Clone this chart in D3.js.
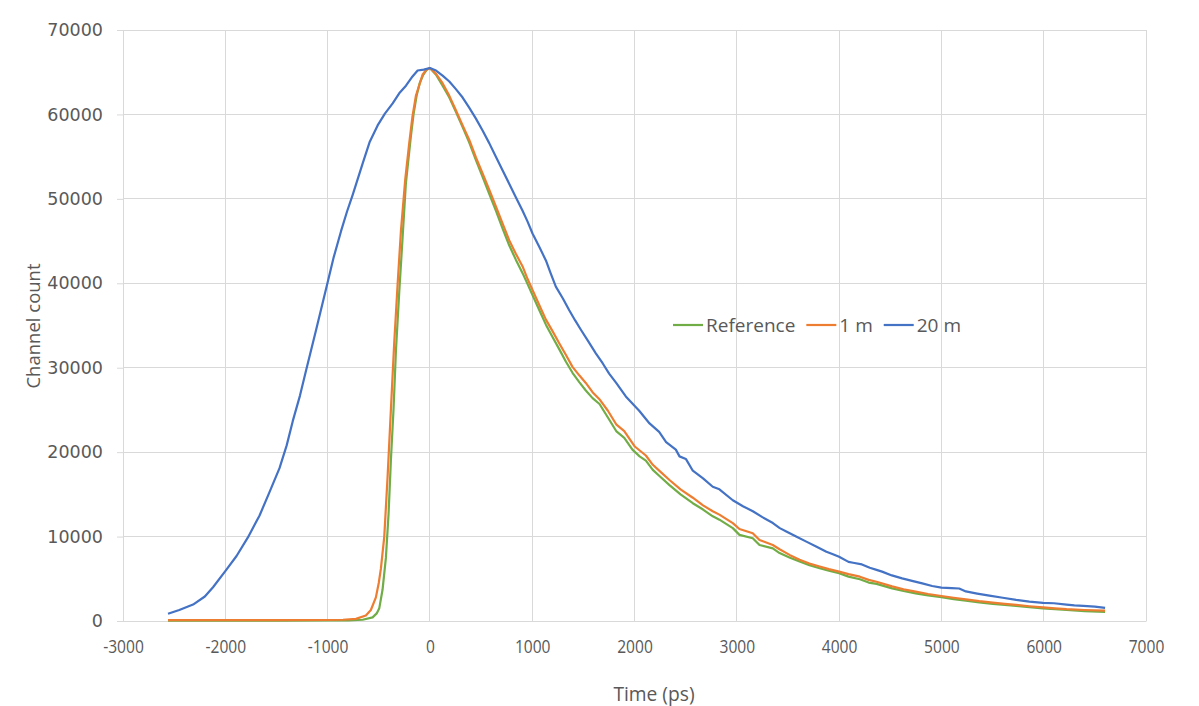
<!DOCTYPE html>
<html>
<head>
<meta charset="utf-8">
<script src="https://cdn.jsdelivr.net/npm/d3@7"></script>
<style>
  body { margin: 0; background: #fff; }
  text { font-family: "Open Sans", sans-serif; fill: #595959; }
</style>
</head>
<body>
<svg id="chart" width="1199" height="706"></svg>
<script>
// [time (ps), channel count]
const reference = [
  [-2560, 50], [-1500, 50], [-1000, 60], [-800, 80], [-658, 150], [-560, 430], [-520, 900],
  [-495, 1500], [-463, 3700], [-430, 7500], [-404, 12700], [-381, 19100], [-355, 25200],
  [-332, 32000], [-300, 38900], [-267, 45400], [-235, 51800], [-186, 57400], [-160, 60000],
  [-130, 62200], [-100, 63700], [-65, 64700], [-30, 65300], [0, 65500], [60, 64700],
  [124, 63400], [190, 62000], [254, 60300], [320, 58500], [384, 56700], [450, 54600],
  [515, 52600], [580, 50600], [645, 48600], [710, 46500], [775, 44500], [840, 42800],
  [906, 41200], [955, 39900], [1003, 38600], [1070, 36800], [1134, 35100], [1200, 33600],
  [1264, 32200], [1330, 30700], [1394, 29400], [1460, 28300], [1524, 27300], [1590, 26400],
  [1658, 25700], [1740, 24100], [1821, 22500], [1900, 21700], [1980, 20300], [2050, 19500],
  [2111, 19000], [2179, 17900], [2260, 17000], [2342, 16100], [2450, 15000], [2570, 13950],
  [2670, 13200], [2765, 12400], [2830, 12000], [2961, 11000], [3026, 10200], [3156, 9800],
  [3222, 9000], [3352, 8600], [3418, 8050], [3520, 7500], [3614, 7050], [3710, 6600],
  [3810, 6250], [3900, 5950], [4000, 5650], [4092, 5260], [4203, 4950], [4289, 4550],
  [4366, 4400], [4518, 3870], [4630, 3550], [4748, 3280], [4870, 3030], [5000, 2810],
  [5120, 2600], [5239, 2410], [5370, 2200], [5502, 2020], [5620, 1900], [5731, 1780],
  [5860, 1630], [5993, 1500], [6110, 1400], [6223, 1300], [6400, 1180], [6600, 1070]
]

const oneMetre = [
  [-2560, 100], [-1500, 100], [-1000, 120], [-850, 150], [-723, 250], [-626, 650], [-577, 1300],
  [-528, 2800], [-500, 4500], [-479, 6200], [-446, 10000], [-414, 17000], [-381, 25100],
  [-349, 32900], [-316, 39800], [-283, 46200], [-241, 52300], [-202, 56600], [-170, 59800],
  [-137, 62200], [-100, 63600], [-72, 64700], [-35, 65300], [0, 65500], [60, 64800],
  [124, 63700], [190, 62200], [254, 60500], [320, 58700], [384, 57000], [450, 54900],
  [515, 53000], [580, 51100], [645, 49100], [710, 47100], [775, 45100], [840, 43500],
  [906, 42000], [955, 40500], [1003, 39200], [1070, 37400], [1134, 35700], [1200, 34300],
  [1264, 32900], [1330, 31500], [1394, 30100], [1460, 29100], [1524, 28200], [1590, 27100],
  [1655, 26300], [1740, 24900], [1821, 23300], [1900, 22500], [2000, 20700], [2111, 19600],
  [2179, 18500], [2260, 17600], [2342, 16700], [2450, 15600], [2570, 14600], [2670, 13700],
  [2765, 13000], [2830, 12600], [2961, 11600], [3026, 10900], [3156, 10400], [3222, 9600],
  [3352, 9000], [3418, 8500], [3520, 7800], [3614, 7250], [3710, 6800], [3810, 6450],
  [3900, 6150], [4000, 5850], [4092, 5550], [4203, 5250], [4289, 4870], [4366, 4650],
  [4518, 4100], [4630, 3750], [4748, 3480], [4870, 3200], [5000, 2960], [5120, 2750],
  [5239, 2570], [5370, 2350], [5502, 2170], [5620, 2030], [5731, 1900], [5860, 1750],
  [5993, 1620], [6110, 1500], [6223, 1400], [6400, 1300], [6600, 1230]
]

const twentyMetre = [
  [-2560, 850], [-2450, 1300], [-2315, 1950], [-2200, 2900], [-2120, 4000], [-2000, 5900],
  [-1890, 7700], [-1779, 9900], [-1665, 12500], [-1570, 15200], [-1470, 18100], [-1400, 20800],
  [-1340, 23700], [-1270, 26700], [-1210, 29700], [-1112, 34500], [-1000, 40100], [-940, 43100],
  [-868, 46200], [-810, 48500], [-754, 50500], [-657, 54200], [-590, 56700], [-511, 58700],
  [-440, 60100], [-364, 61300], [-300, 62500], [-234, 63400], [-170, 64500], [-120, 65200],
  [-60, 65300], [0, 65500], [60, 65200], [124, 64600], [190, 63900], [254, 63000], [320, 62000],
  [384, 60800], [450, 59500], [515, 58100], [580, 56600], [645, 55000], [710, 53400],
  [775, 51800], [840, 50200], [906, 48600], [955, 47300], [1003, 45900], [1070, 44300],
  [1134, 42700], [1180, 41200], [1231, 39600], [1300, 38200], [1362, 36800], [1420, 35600],
  [1476, 34500], [1550, 33100], [1622, 31700], [1690, 30500], [1752, 29300], [1821, 28200],
  [1915, 26600], [2000, 25500], [2046, 24900], [2147, 23400], [2241, 22400], [2309, 21200],
  [2404, 20300], [2440, 19500], [2502, 19200], [2570, 17800], [2670, 16900], [2765, 15900],
  [2830, 15600], [2961, 14300], [3060, 13600], [3157, 13000], [3250, 12300], [3353, 11600],
  [3420, 11000], [3484, 10600], [3580, 10000], [3680, 9400], [3780, 8800], [3876, 8200],
  [3940, 7900], [4000, 7600], [4092, 7000], [4137, 6900], [4223, 6700], [4300, 6300],
  [4366, 6050], [4420, 5850], [4516, 5400], [4616, 5050], [4713, 4750], [4813, 4450],
  [4910, 4150], [5000, 3950], [5100, 3900], [5174, 3850], [5239, 3500], [5350, 3250],
  [5469, 3000], [5600, 2750], [5731, 2500], [5860, 2300], [5993, 2150], [6100, 2100],
  [6223, 1950], [6300, 1850], [6387, 1780], [6500, 1700], [6600, 1550]
]

const seriesNames = ['Reference', '1 m', '20 m']
const seriesColors = ['#70ad47', '#ed7d31', '#4472c4']
const xTicks = [-3000, -2000, -1000, 0, 1000, 2000, 3000, 4000, 5000, 6000, 7000]
const yTicks = [0, 10000, 20000, 30000, 40000, 50000, 60000, 70000]

const svg = d3.select('#chart')
const margin = { top: 30, right: 53, bottom: 85, left: 123 },
      width  = 1199 - margin.left - margin.right,
      height = 706 - margin.top - margin.bottom

const x = d3.scaleLinear().domain([-3000, 7000]).range([0, width])
const y = d3.scaleLinear().domain([0, 70000]).range([height, 0])

const g = svg.append('g')
  .attr('transform', 'translate(' + margin.left + ',' + margin.top + ')')

// gridlines
g.append('g').selectAll('line').data(xTicks).join('line')
  .attr('x1', d => x(d)).attr('x2', d => x(d))
  .attr('y1', 0).attr('y2', height)
  .attr('stroke', '#d9d9d9').attr('stroke-width', 1).attr('shape-rendering', 'crispEdges')
g.append('g').selectAll('line').data(yTicks).join('line')
  .attr('x1', 0).attr('x2', width)
  .attr('y1', d => y(d)).attr('y2', d => y(d))
  .attr('stroke', '#d9d9d9').attr('stroke-width', 1).attr('shape-rendering', 'crispEdges')

// plain hyphen minus like the original, not d3's unicode minus
const plain = d => String(d)

// y axis
const yAxis = g.append('g')
  .call(d3.axisLeft(y).tickValues(yTicks).tickSizeInner(6).tickSizeOuter(0).tickPadding(14)
    .tickFormat(plain))
yAxis.select('.domain').attr('stroke', '#d9d9d9')
yAxis.selectAll('.tick line').attr('stroke', '#d9d9d9')
yAxis.selectAll('text').style('font-size', '17.5px').style('font-family', '"DejaVu Sans", sans-serif')
  .attr('fill', '#595959')

// x axis
const xAxis = g.append('g')
  .attr('transform', 'translate(0,' + height + ')')
  .call(d3.axisBottom(x).tickValues(xTicks).tickSize(0).tickPadding(19)
    .tickFormat(plain))
xAxis.select('.domain').attr('stroke', '#d9d9d9')
xAxis.selectAll('text').style('font-size', '19px').attr('fill', '#595959')
  .attr('transform', 'scale(0.82,1)')

// lines
const line = d3.line()
  .x(d => x(d[0]))
  .y(d => y(d[1]))

const allSeries = [reference, oneMetre, twentyMetre]
g.selectAll('path.series').data(allSeries).join('path')
  .attr('class', 'series')
  .attr('fill', 'none')
  .attr('stroke', (d, i) => seriesColors[i])
  .attr('stroke-width', 2.2)
  .attr('stroke-linejoin', 'round')
  .attr('d', line)

// axis titles
svg.append('text')
  .attr('transform', 'translate(654,701) scale(0.96,1)')
  .attr('text-anchor', 'middle')
  .style('font-size', '20px')
  .text('Time (ps)')

svg.append('text')
  .attr('transform', 'translate(40,326) rotate(-90)')
  .attr('text-anchor', 'middle')
  .style('font-size', '18.5px')
  .text('Channel count')

// legend
const legend = svg.append('g').attr('transform', 'translate(673,325)')
let lx = 0
seriesNames.forEach(function (name, i) {
  legend.append('line')
    .attr('x1', lx).attr('x2', lx + 30)
    .attr('y1', 0).attr('y2', 0)
    .attr('stroke', seriesColors[i]).attr('stroke-width', 2.2)
  const t = legend.append('text')
    .attr('x', lx + 33).attr('y', 6.5)
    .style('font-size', '19px')
    .text(name)
  lx += 33 + t.node().getComputedTextLength() + 11
})
</script>
</body>
</html>
